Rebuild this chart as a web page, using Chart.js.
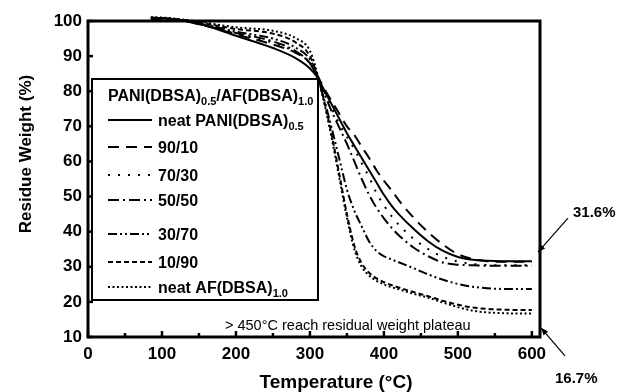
<!DOCTYPE html>
<html>
<head>
<meta charset="utf-8">
<script src="https://cdn.jsdelivr.net/npm/chart.js@4.4.1/dist/chart.umd.min.js"></script>
<style>
  html, body { margin: 0; padding: 0; background: #fff; }
  #wrap { width: 620px; height: 392px; }
</style>
</head>
<body>
<div id="wrap"><canvas id="tga" width="620" height="392"></canvas></div>
<script>
// TGA curves, residue weight (%) vs temperature (°C)
const temps = [85, 100, 125, 150, 200, 250, 280, 300, 310, 320, 330, 340, 350, 360, 370, 380, 390, 400, 410, 420, 440, 460, 480, 500, 520, 540, 560, 580, 600];

const neatPani = [100.9, 100.8, 100.3, 99.3, 95.8, 92.3, 89.5, 86.5, 84, 80, 76, 72, 68, 64.5, 61, 57.5, 54, 50.5, 47.5, 45, 40.8, 37.2, 34.5, 32.8, 32, 31.7, 31.6, 31.6, 31.6];
const blend9010 = [100.7, 100.6, 100.1, 99.1, 96.2, 93.3, 91, 88, 84.5, 80.5, 77, 73.5, 70, 67.5, 64.2, 61, 57.5, 54.5, 51.9, 49, 44, 39.8, 36.3, 33.6, 32.2, 31.6, 31.4, 31.4, 31.4];
const blend7030 = [100.8, 100.7, 100.2, 99.2, 96.4, 93.8, 91.2, 88, 84.2, 79.5, 75, 70.5, 67, 63.5, 59.5, 55.5, 51, 47.5, 44.5, 42, 38, 35, 32.8, 31.5, 30.8, 30.5, 30.4, 30.4, 30.4];
const blend5050 = [100.7, 100.6, 100.1, 99.1, 96.6, 94.2, 91.5, 88, 84, 79, 74, 69.5, 65, 60, 55, 50.5, 46.8, 43.8, 41.2, 39, 35.5, 33, 31.2, 30.6, 30.4, 30.3, 30.3, 30.3, 30.3];
const blend3070 = [100.8, 100.7, 100.3, 99.4, 97, 95, 92.5, 89, 84, 77, 69, 60.5, 52, 46, 41.5, 37.2, 34.5, 33, 32.1, 31.3, 29.6, 27.8, 26.3, 25.1, 24.3, 23.9, 23.7, 23.7, 23.7];
const blend1090 = [101, 100.8, 100.4, 99.6, 97.7, 96.4, 94, 90, 84.5, 76.5, 67, 56, 45, 36, 31, 28.3, 26.7, 25.6, 24.8, 24.1, 22.8, 21.6, 20.3, 19.2, 18.4, 18, 17.8, 17.7, 17.7];
const neatAf = [101.1, 101, 100.5, 99.8, 98.2, 97.2, 95.2, 91.5, 85, 76, 66, 55, 44, 35, 30, 27.5, 26, 25, 24.2, 23.6, 22.3, 21.2, 19.8, 18.5, 17.5, 17, 16.8, 16.7, 16.7];

const seriesLabels = ['neat PANI(DBSA)_{0.5}', '90/10', '70/30', '50/50', '30/70', '10/90', 'neat AF(DBSA)_{1.0}'];
const seriesValues = [neatPani, blend9010, blend7030, blend5050, blend3070, blend1090, neatAf];
const seriesDashes = [[], [11, 7], [2, 8], [11, 4, 2, 4], [9, 3, 2, 3, 2, 3], [5, 3], [2, 2.5]];

const legendTitle = 'PANI(DBSA)_{0.5}/AF(DBSA)_{1.0}';
const xTicks = [0, 100, 200, 300, 400, 500, 600];
const yTicks = [10, 20, 30, 40, 50, 60, 70, 80, 90, 100];

const FONT = '"Liberation Sans", Arial, Helvetica, sans-serif';

// text with _{sub} and ^{sup} pieces, y is the baseline
function drawRich(ctx, x, y, text, size, weight, align) {
    const parts = [];
    const re = /([_^])\{([^}]*)\}/g;
    let last = 0, m;
    while ((m = re.exec(text))) {
        if (m.index > last) parts.push({ t: text.slice(last, m.index), k: '' });
        parts.push({ t: m[2], k: m[1] });
        last = re.lastIndex;
    }
    if (last < text.length) parts.push({ t: text.slice(last), k: '' });
    const fontFor = k => `${weight} ${k ? Math.round(size * 0.66) : size}px ${FONT}`;
    let w = 0;
    parts.forEach(p => {
        ctx.font = fontFor(p.k);
        p.w = ctx.measureText(p.t).width;
        w += p.w;
    });
    let cx = align === 'center' ? x - w / 2 : x;
    ctx.textAlign = 'left';
    ctx.textBaseline = 'alphabetic';
    parts.forEach(p => {
        ctx.font = fontFor(p.k);
        const dy = p.k === '_' ? size * 0.28 : (p.k === '^' ? -size * 0.42 : 0);
        ctx.fillText(p.t, cx, y + dy);
        cx += p.w;
    });
    return w;
}

function arrow(ctx, x0, y0, x1, y1) {
    ctx.beginPath();
    ctx.moveTo(x0, y0);
    ctx.lineTo(x1, y1);
    ctx.stroke();
    const ang = Math.atan2(y1 - y0, x1 - x0);
    const len = 8, half = 0.38;
    ctx.beginPath();
    ctx.moveTo(x1, y1);
    ctx.lineTo(x1 - len * Math.cos(ang - half), y1 - len * Math.sin(ang - half));
    ctx.lineTo(x1 - len * Math.cos(ang + half), y1 - len * Math.sin(ang + half));
    ctx.closePath();
    ctx.fill();
}

const legendRows = [126, 153, 181, 206, 240, 268, 293];

const decorPlugin = {
    id: 'decor',
    afterDatasetsDraw(chart) {
        const { ctx, chartArea: a } = chart;
        ctx.save();
        // legend box (covers the curves)
        const bx = a.left + 4, by = a.top + 58, bw = 226, bh = 221;
        ctx.fillStyle = '#fff';
        ctx.fillRect(bx, by, bw, bh);
        ctx.strokeStyle = '#000';
        ctx.lineWidth = 2;
        ctx.strokeRect(bx, by, bw, bh);
        ctx.fillStyle = '#000';
        drawRich(ctx, bx + 16, 101, legendTitle, 16, 'bold', 'left');
        seriesLabels.forEach((lab, i) => {
            const yy = legendRows[i];
            ctx.beginPath();
            ctx.setLineDash(seriesDashes[i]);
            ctx.lineWidth = 2;
            ctx.moveTo(bx + 16, yy - 6);
            ctx.lineTo(bx + 60, yy - 6);
            ctx.stroke();
            ctx.setLineDash([]);
            drawRich(ctx, bx + 66, yy, lab, 16, 'bold', 'left');
        });
        ctx.restore();
    },
    afterDraw(chart) {
        const { ctx, chartArea: a, scales: { x, y } } = chart;
        ctx.save();
        ctx.strokeStyle = '#000';
        ctx.fillStyle = '#000';
        // frame
        ctx.lineWidth = 3;
        ctx.strokeRect(a.left, a.top, a.right - a.left, a.bottom - a.top);
        // inward ticks
        ctx.lineWidth = 2.5;
        for (let v = 0; v <= 600; v += 50) {
            const px = x.getPixelForValue(v);
            const len = v % 100 === 0 ? 6 : 4;
            ctx.beginPath();
            ctx.moveTo(px, a.bottom);
            ctx.lineTo(px, a.bottom - len);
            ctx.stroke();
        }
        yTicks.forEach(v => {
            const py = y.getPixelForValue(v);
            ctx.beginPath();
            ctx.moveTo(a.left, py);
            ctx.lineTo(a.left + 5, py);
            ctx.stroke();
        });
        // axis titles
        drawRich(ctx, 336, 388, 'Temperature (°C)', 19, 'bold', 'center');
        ctx.save();
        ctx.translate(31, 154);
        ctx.rotate(-Math.PI / 2);
        drawRich(ctx, 0, 0, 'Residue Weight (%)', 17, 'bold', 'center');
        ctx.restore();
        // plateau note
        drawRich(ctx, 225, 330, '> 450°C reach residual weight plateau', 14.5, 'normal', 'left');
        // end-value callouts
        ctx.lineWidth = 1.2;
        const t1x = a.right - 2, t1y = y.getPixelForValue(34.2);
        arrow(ctx, t1x + 30, t1y - 34, t1x, t1y);
        drawRich(ctx, t1x + 35, t1y - 35, '31.6%', 15, 'bold', 'left');
        const t2x = a.right + 1, t2y = y.getPixelForValue(12.6);
        arrow(ctx, t2x + 24, t2y + 28, t2x, t2y);
        drawRich(ctx, t2x + 14, t2y + 55, '16.7%', 15, 'bold', 'left');
        ctx.restore();
    }
};

const datasets = seriesValues.map((vals, i) => ({
    label: seriesLabels[i],
    data: temps.map((t, j) => ({ x: t, y: vals[j] })),
    borderColor: '#000',
    borderWidth: 2,
    borderDash: seriesDashes[i],
    pointRadius: 0,
    fill: false,
    cubicInterpolationMode: 'monotone',
    clip: false
}));

const tickFont = { family: FONT, size: 17, weight: 'bold' };

new Chart(document.getElementById('tga').getContext('2d'), {
    type: 'line',
    data: { datasets: datasets },
    options: {
        responsive: false,
        animation: false,
        devicePixelRatio: 1,
        layout: { padding: { top: 21, right: 80, left: 0, bottom: 0 } },
        plugins: {
            legend: { display: false },
            tooltip: { enabled: false }
        },
        scales: {
            x: {
                type: 'linear',
                min: 0,
                max: 611,
                grid: { display: false, drawTicks: false },
                border: { display: false },
                afterBuildTicks: s => { s.ticks = xTicks.map(v => ({ value: v })); },
                ticks: { color: '#000', font: tickFont, padding: 7, maxRotation: 0, autoSkip: false },
                afterFit: s => { s.height = 55; }
            },
            y: {
                min: 10,
                max: 100,
                grid: { display: false, drawTicks: false },
                border: { display: false },
                afterBuildTicks: s => { s.ticks = yTicks.map(v => ({ value: v })); },
                ticks: { color: '#000', font: tickFont, padding: 6, autoSkip: false },
                afterFit: s => { s.width = 88; }
            }
        }
    },
    plugins: [decorPlugin]
});
</script>
</body>
</html>
